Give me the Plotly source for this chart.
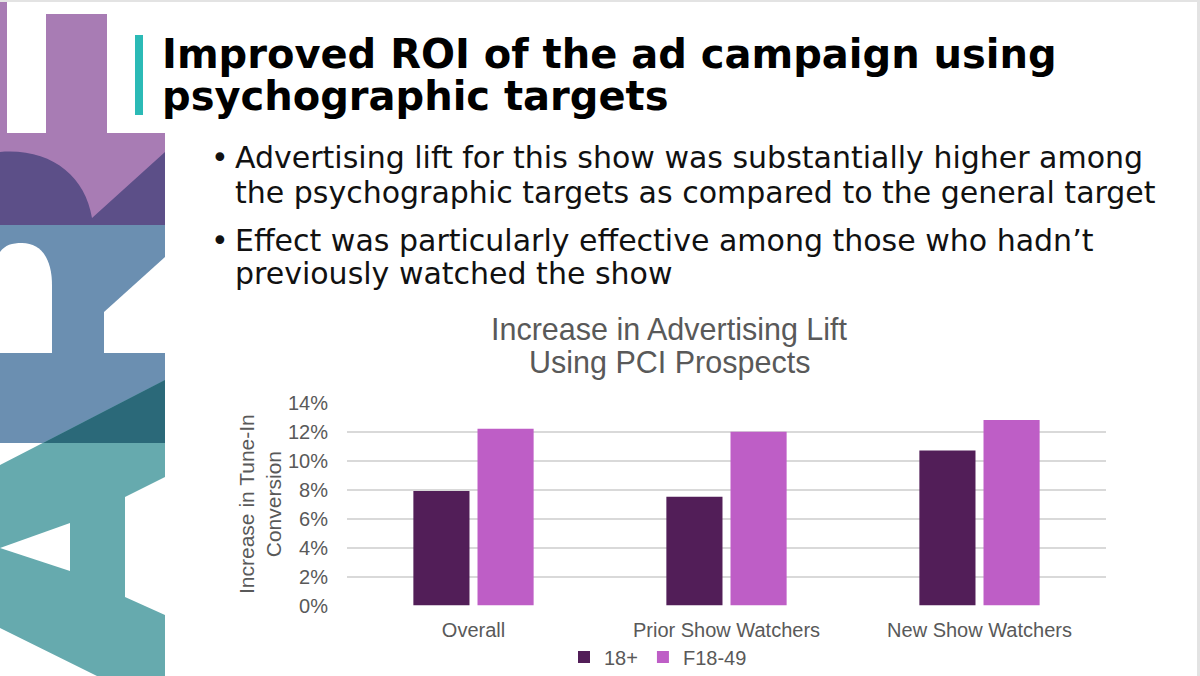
import plotly.graph_objects as go

# ---- data ----
categories = ["Overall", "Prior Show Watchers", "New Show Watchers"]
series_names = ["18+", "F18-49"]
values_18plus = [0.079, 0.075, 0.107]
values_f1849 = [0.122, 0.120, 0.128]
y_ticks = [0, 0.02, 0.04, 0.06, 0.08, 0.10, 0.12, 0.14]

slide_title = ["Improved ROI of the ad campaign using", "psychographic targets"]
bullets = [
    ["Advertising lift for this show was substantially higher among",
     "the psychographic targets as compared to the general target"],
    ["Effect was particularly effective among those who hadn\u2019t",
     "previously watched the show"],
]
chart_title = ["Increase in Advertising Lift", "Using PCI Prospects"]
y_title = "Increase in Tune-In<br>Conversion"

W, H = 1200, 676


def px(x):
    return x / W


def py(y):
    return 1 - y / H


def path_from(points, close=True):
    s = "M " + " L ".join(f"{px(x):.5f},{py(y):.5f}" for x, y in points)
    return s + (" Z" if close else "")


fig = go.Figure()
fig.add_trace(go.Bar(name=series_names[0], x=categories, y=values_18plus,
                     marker=dict(color="#521E58", line=dict(width=0))))
fig.add_trace(go.Bar(name=series_names[1], x=categories, y=values_f1849,
                     marker=dict(color="#BE5EC6", line=dict(width=0))))

shapes = []


def rect(x0, y0, x1, y1, color):
    shapes.append(dict(type="rect", xref="paper", yref="paper",
                       x0=px(x0), x1=px(x1), y0=py(y1), y1=py(y0),
                       fillcolor=color, line=dict(width=0), layer="below"))


def poly(points, color):
    shapes.append(dict(type="path", xref="paper", yref="paper",
                       path=path_from(points), fillcolor=color,
                       line=dict(width=0), layer="below"))


def rawpath(d, color):
    shapes.append(dict(type="path", xref="paper", yref="paper",
                       path=d, fillcolor=color, line=dict(width=0), layer="below"))


def P(x, y):
    return f"{px(x):.5f},{py(y):.5f}"


# ---- decorative logo on the left ----
LP, DP, BL, TE, DT = "#A87CB4", "#5C4F88", "#6B8FB1", "#66AAAE", "#2B6979"
rect(0, 0, 165, 225, LP)
rect(7, 0, 46, 133, "white")
rect(46, 0, 107, 14, "white")
rect(107, 0, 165, 133, "white")
rawpath(f"M {P(0,152)} C {P(50,148)} {P(85,175)} {P(92,218)} L {P(165,152)} "
        f"L {P(165,225)} L {P(0,225)} Z", DP)
rect(0, 225, 165, 443, BL)
rawpath(f"M {P(0,252)} C {P(5,245)} {P(12,243)} {P(22,243)} "
        f"C {P(42,243)} {P(52,260)} {P(52,285)} L {P(52,353)} L {P(0,353)} Z", "white")
poly([(165, 257), (104, 312), (104, 353), (165, 353)], "white")
poly([(0, 465), (165, 380), (165, 477), (125, 497), (125, 597), (165, 615),
      (165, 676), (97, 676), (0, 628)], TE)
poly([(0, 548), (70, 523), (70, 571)], "white")
poly([(43, 443), (165, 380), (165, 443)], DT)

# title accent bar
rect(135, 35, 143, 115, "#2BBAB6")
# faint slide border (top / right)
rect(0, 0, 1200, 2, "#E3E3E3")
rect(1197, 0, 1200, 676, "#E3E3E3")

annotations = []


def text(x, y, t, size, color, family, xanchor="left", bold=False, angle=0):
    annotations.append(dict(x=px(x), y=py(y), xref="paper", yref="paper",
                            text=(f"<b>{t}</b>" if bold else t), showarrow=False,
                            xanchor=xanchor, yanchor="middle", textangle=angle,
                            font=dict(size=size, color=color, family=family)))


# slide title
text(160, 54, slide_title[0], 40, "#000000", "DejaVu Sans", bold=True)
text(160, 96, slide_title[1], 40, "#000000", "DejaVu Sans", bold=True)

# bullets
bullet_y = [[157, 193], [240, 273]]
for lines, ys in zip(bullets, bullet_y):
    text(209, ys[0], "\u2022", 30, "#111111", "DejaVu Sans")
    for ln, yy in zip(lines, ys):
        text(233, yy, ln, 30, "#111111", "DejaVu Sans")

# chart title
text(669, 329, chart_title[0], 30.5, "#595959", "Liberation Sans", xanchor="center")
text(669, 362, chart_title[1], 30.5, "#595959", "Liberation Sans", xanchor="center")

# y-axis title
annotations.append(dict(x=px(260), y=py(504), xref="paper", yref="paper",
                        text=y_title, showarrow=False, xanchor="center",
                        yanchor="middle", textangle=-90,
                        font=dict(size=21, color="#595959", family="Liberation Sans")))

fig.update_layout(
    width=W, height=H,
    margin=dict(l=0, r=0, t=0, b=0, autoexpand=False),
    paper_bgcolor="white", plot_bgcolor="white",
    barmode="group", bargap=0.493, bargroupgap=0.125,
    shapes=shapes, annotations=annotations,
    showlegend=True,
    legend=dict(orientation="h", x=px(658), y=py(657), xanchor="center",
                yanchor="middle", font=dict(size=20, color="#595959",
                                            family="Liberation Sans"),
                bgcolor="rgba(0,0,0,0)", itemwidth=30),
    xaxis=dict(domain=[px(347), px(1106)], showgrid=False, showline=False,
               zeroline=False, ticks="", ticklabelstandoff=10, automargin=False,
               tickfont=dict(size=20, color="#595959", family="Liberation Sans")),
    yaxis=dict(domain=[py(605.5), py(402.7)], range=[0, 0.14],
               tickvals=y_ticks, tickformat=".0%", showgrid=True,
               gridcolor="#D9D9D9", gridwidth=1.5, zeroline=False,
               showline=False, ticks="", ticklabelstandoff=18, automargin=False,
               tickfont=dict(size=20, color="#595959", family="Liberation Sans")),
)

post_js = (
    "var de=document.documentElement, b=document.body;"
    "de.style.margin='0';de.style.padding='0';de.style.overflow='hidden';"
    "b.style.margin='0';b.style.padding='0';b.style.overflow='hidden';"
    "var g=document.getElementById('{plot_id}');"
    "g.style.position='fixed';g.style.left='0px';g.style.top='0px';"
)
fig.write_html("out.html", post_script=post_js,
               config={"displayModeBar": False})
